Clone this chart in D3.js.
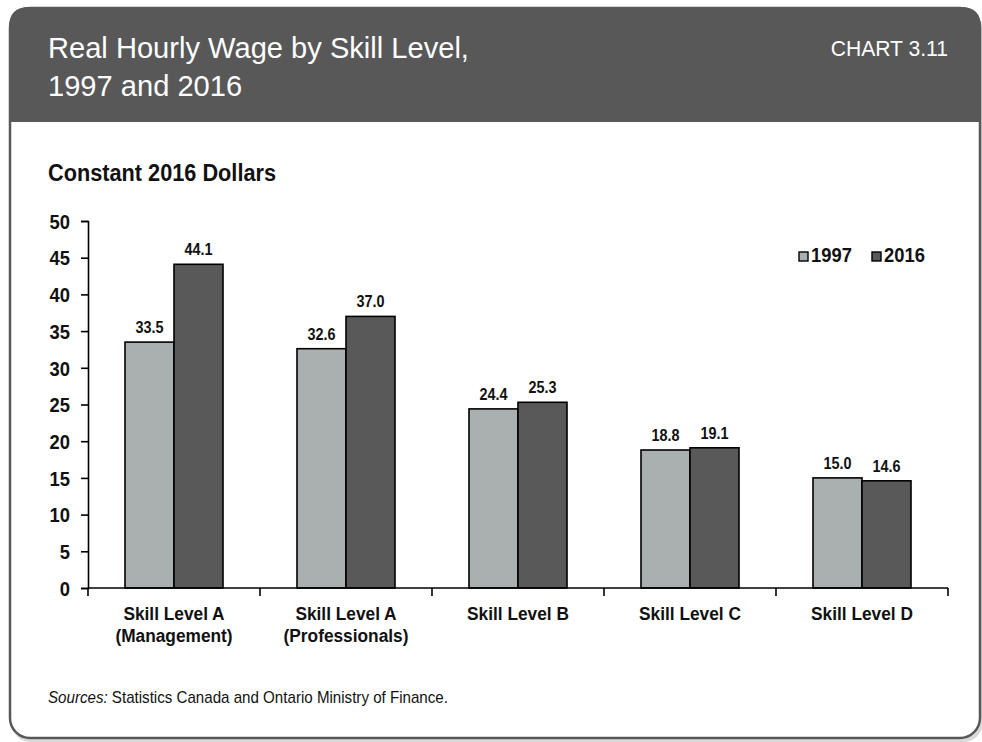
<!DOCTYPE html>
<html>
<head>
<meta charset="utf-8">
<script src="https://cdn.jsdelivr.net/npm/d3@7"></script>
<style>
  html, body { margin: 0; padding: 0; background: #fff; }
  svg { display: block; }
  text { font-family: "Liberation Sans", Arial, Helvetica, sans-serif; }
</style>
</head>
<body>
<svg id="chart" width="982" height="742"></svg>
<script>
// Data
const categories = [
  ["Skill Level A", "(Management)"],
  ["Skill Level A", "(Professionals)"],
  ["Skill Level B"],
  ["Skill Level C"],
  ["Skill Level D"]
];
const seriesNames = ["1997", "2016"];
const values1997 = [33.5, 32.6, 24.4, 18.8, 15.0];
const values2016 = [44.1, 37.0, 25.3, 19.1, 14.6];
const yTicks = [0, 5, 10, 15, 20, 25, 30, 35, 40, 45, 50];
const colors = ["#aab0b0", "#595959"];

const svg = d3.select("#chart");

// Condensed-looking text: horizontally squeezed via a scale transform
function ctext(parent, x, y, sx) {
  return parent.append("text").attr("transform", `translate(${x},${y}) scale(${sx},1)`);
}

// Card frame with header band
const fx = 9, fy = 7, fw = 972, fh = 732, r = 20;
const frame = svg.append("g");
frame.append("rect")
  .attr("x", fx + 2).attr("y", fy + 3).attr("width", fw).attr("height", fh)
  .attr("rx", r).attr("fill", "#d8d8d8");
frame.append("rect")
  .attr("x", fx).attr("y", fy).attr("width", fw).attr("height", fh)
  .attr("rx", r).attr("fill", "#fff");
const hh = 115;
frame.append("path")
  .attr("d", `M${fx},${fy + hh} V${fy + r} Q${fx},${fy} ${fx + r},${fy} H${fx + fw - r} Q${fx + fw},${fy} ${fx + fw},${fy + r} V${fy + hh} Z`)
  .attr("fill", "#585858");
frame.append("rect")
  .attr("x", fx + 1).attr("y", fy + 1).attr("width", fw - 2).attr("height", fh - 2)
  .attr("rx", r).attr("fill", "none").attr("stroke", "#585858").attr("stroke-width", 2.5);

// Header texts
const title = ctext(svg, 48, 0, 0.97).attr("fill", "#fff").attr("font-size", 30);
title.append("tspan").attr("x", 0).attr("y", 58).text("Real Hourly Wage by Skill Level,");
title.append("tspan").attr("x", 0).attr("y", 96).text("1997 and 2016");
ctext(svg, 948, 56, 0.96).attr("text-anchor", "end")
  .attr("fill", "#fff").attr("font-size", 22).text("CHART 3.11");

// Unit label
ctext(svg, 48, 181, 0.905).attr("font-size", 24).attr("font-weight", "bold")
  .attr("fill", "#111").text("Constant 2016 Dollars");

// Plot scales
const x0 = 88, x1 = 948, yTop = 221, yBot = 588;
const x = d3.scaleBand().domain(d3.range(categories.length)).range([x0, x1]);
const bandPad = 37;
const xs = d3.scaleBand().domain(seriesNames).range([bandPad, x.bandwidth() - bandPad]);
const y = d3.scaleLinear().domain([0, 50]).range([yBot, yTop]);

// Bars and value labels
const rows = categories.map((c, i) => ({ i, vals: [values1997[i], values2016[i]] }));
const groups = svg.append("g").selectAll("g").data(rows).join("g")
  .attr("transform", d => `translate(${x(d.i)},0)`);
groups.selectAll("rect").data(d => d.vals.map((v, k) => ({ v, k })))
  .join("rect")
  .attr("x", d => xs(seriesNames[d.k]))
  .attr("y", d => y(d.v))
  .attr("width", xs.bandwidth())
  .attr("height", d => y(0) - y(d.v))
  .attr("fill", d => colors[d.k])
  .attr("stroke", "#000").attr("stroke-width", 1.6);
groups.each(function (d) {
  const g = d3.select(this);
  d.vals.forEach((v, k) => {
    ctext(g, xs(seriesNames[k]) + xs.bandwidth() / 2, y(v) - 9, 0.9)
      .attr("text-anchor", "middle").attr("font-size", 16).attr("font-weight", "bold")
      .attr("fill", "#111").text(v.toFixed(1));
  });
});

// Y axis
const yAxis = svg.append("g").attr("transform", `translate(${x0},0)`)
  .call(d3.axisLeft(y).tickValues(yTicks).tickSize(7).tickPadding(10));
yAxis.select(".domain").attr("stroke", "#000").attr("stroke-width", 1.6);
yAxis.selectAll(".tick line").attr("stroke", "#000").attr("stroke-width", 1.6);
yAxis.selectAll(".tick text")
  .attr("x", 0).attr("dy", "0.36em")
  .attr("transform", "translate(-18,0) scale(0.92,1)")
  .attr("font-family", null)
  .attr("font-size", 20).attr("font-weight", "bold").attr("fill", "#111");
yAxis.attr("font-family", null);

// X axis with ticks at category boundaries
const xAxisG = svg.append("g").attr("transform", `translate(0,${yBot})`);
xAxisG.append("line").attr("x1", x0).attr("x2", x1).attr("stroke", "#000").attr("stroke-width", 1.6);
const bounds = d3.range(categories.length + 1).map(i => i < categories.length ? x(i) : x1);
xAxisG.selectAll("line.tk").data(bounds).join("line").attr("class", "tk")
  .attr("x1", d => d).attr("x2", d => d).attr("y1", 0).attr("y2", 8)
  .attr("stroke", "#000").attr("stroke-width", 1.6);
categories.forEach((c, i) => {
  const t = ctext(xAxisG, x(i) + x.bandwidth() / 2, 0, 0.91)
    .attr("text-anchor", "middle").attr("font-size", 19).attr("font-weight", "bold").attr("fill", "#111");
  c.forEach((line, j) => t.append("tspan").attr("x", 0).attr("y", 32 + j * 22).text(line));
});

// Legend
const leg = svg.append("g").attr("transform", "translate(799,252)");
const legX = [0, 73];
seriesNames.forEach((s, k) => {
  leg.append("rect").attr("x", legX[k]).attr("y", 0).attr("width", 9).attr("height", 9)
    .attr("fill", colors[k]).attr("stroke", "#000").attr("stroke-width", 1.4);
  ctext(leg, legX[k] + 12, 10, 0.92).attr("font-size", 20).attr("font-weight", "bold")
    .attr("fill", "#111").text(s);
});

// Source note
const src = ctext(svg, 48, 703, 0.89).attr("font-size", 17).attr("fill", "#111");
src.append("tspan").attr("font-style", "italic").text("Sources:");
src.append("tspan").text(" Statistics Canada and Ontario Ministry of Finance.");
</script>
</body>
</html>
